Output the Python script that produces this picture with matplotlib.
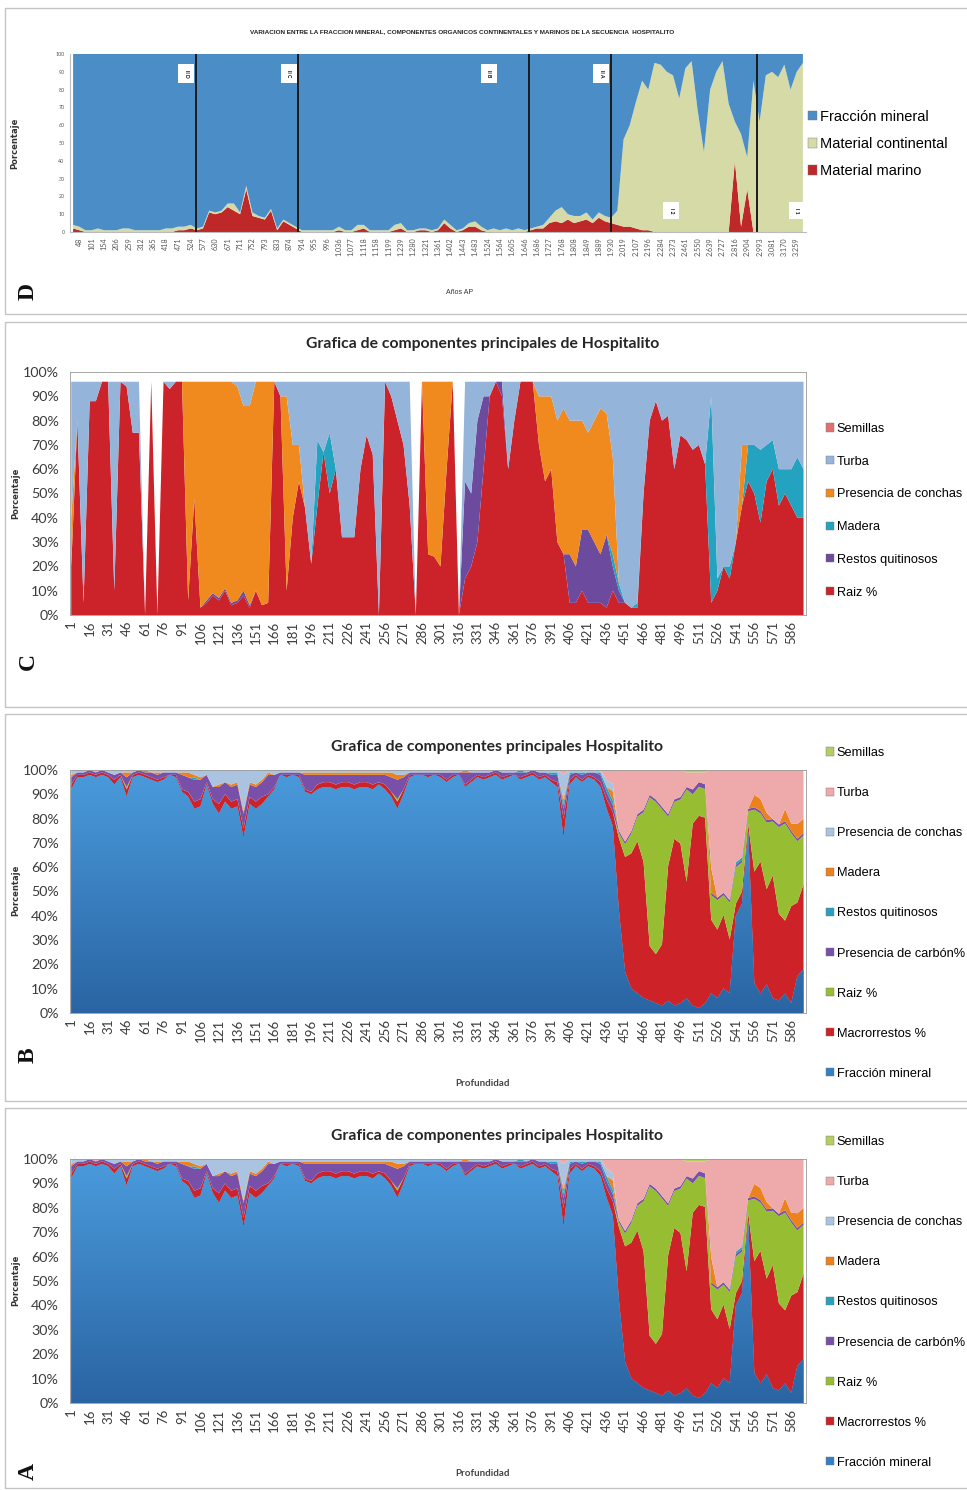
import matplotlib
matplotlib.use("Agg")

import matplotlib.pyplot as plt
import numpy as np
from matplotlib.colors import LinearSegmentedColormap
from matplotlib.patches import Patch, Rectangle

FIG_W, FIG_H = 967, 1490

NARROW = ["Liberation Sans Narrow", "Liberation Sans", "DejaVu Sans"]
HUMANIST = ["Lato", "DejaVu Sans"]
SERIF = ["Liberation Serif", "DejaVu Serif"]
TICK_GREY = "#3c3c3c"

# ---------------------------------------------------------------- panel D
D_TITLE = ("VARIACION ENTRE LA FRACCION MINERAL, COMPONENTES ORGANICOS "
           "CONTINENTALES Y MARINOS DE LA SECUENCIA  HOSPITALITO")
D_AGES = ["48", "101", "154", "206", "259", "312", "365", "418", "471", "524",
          "577", "630", "671", "711", "752", "793", "833", "874", "914", "955",
          "996", "1.036", "1.077", "1.118", "1.158", "1.199", "1.239", "1.280",
          "1.321", "1.361", "1.402", "1.443", "1.483", "1.524", "1.564", "1.605",
          "1.646", "1.686", "1.727", "1.768", "1.808", "1.849", "1.889", "1.930",
          "2.019", "2.107", "2.196", "2.284", "2.373", "2.461", "2.550", "2.639",
          "2.727", "2.816", "2.904", "2.993", "3.081", "3.170", "3.259"]
D_ZONE_BOUNDS = [19.9, 36.4, 73.7, 87.0, 110.6]
D_ZONE_NAMES = ["II D", "II C", "II B", "II A", "I 2", "I 1"]
D_ZONE_AT = [18.3, 34.9, 67.2, 85.4, 96.7, 117.0]
D_ZONE_HIGH = [True, True, True, True, False, False]

D_MARINO = [
    2, 1, 0, 0, 0, 0, 0, 0, 0, 0, 0, 0, 0, 0, 0, 0, 0, 1, 1, 2,
    1, 2, 11, 10, 11, 14, 12, 10, 24, 9,
    8, 7, 12, 1, 6, 4, 2, 0, 0, 0,
    0, 0, 0, 1, 0, 0, 1, 2, 0, 0,
    0, 0, 1, 2, 0, 0, 1, 1, 0, 1,
    5, 2, 0, 1, 3, 3, 1, 0, 0, 0,
    0, 0, 0, 0, 1, 2, 2, 5, 6, 5,
    7, 5, 6, 7, 5, 8, 6, 5, 4, 3,
    3, 2, 1, 1, 0, 0, 0, 0, 0, 0,
    0, 0, 0, 0, 0, 0, 0, 40, 3, 24,
    0, 0, 0, 0, 0, 0, 0, 0, 0,
]
D_CONTINENTAL = [
    2, 2, 1, 1, 2, 1, 1, 1, 2, 2, 1, 1, 1, 1, 1, 2, 2, 2, 2, 2,
    1, 1, 1, 1, 1, 2, 4, 1, 2, 2,
    1, 1, 1, 1, 1, 1, 1, 1, 1, 1,
    1, 1, 1, 2, 1, 1, 3, 2, 1, 1,
    1, 1, 3, 3, 1, 1, 1, 1, 1, 1,
    2, 2, 1, 1, 2, 3, 2, 1, 2, 1,
    2, 1, 2, 1, 1, 1, 2, 3, 6, 9,
    3, 4, 3, 4, 2, 3, 3, 3, 8, 49,
    57, 71, 84, 79, 95, 94, 90, 88, 75, 92,
    96, 68, 45, 80, 90, 96, 72, 22, 52, 18,
    85, 62, 88, 90, 87, 94, 80, 90, 95,
]
D_MINERAL = [
    96, 97, 99, 99, 98, 99, 99, 99, 98, 98, 99, 99, 99, 99, 99, 98, 98, 97, 97, 96,
    98, 97, 88, 89, 88, 84, 84, 89, 74, 89,
    91, 92, 87, 98, 93, 95, 97, 99, 99, 99,
    99, 99, 99, 97, 99, 99, 96, 96, 99, 99,
    99, 99, 96, 95, 99, 99, 98, 98, 99, 98,
    93, 96, 99, 98, 95, 94, 97, 99, 98, 99,
    98, 99, 98, 99, 98, 97, 96, 92, 88, 86,
    90, 91, 91, 89, 93, 89, 91, 92, 88, 48,
    40, 27, 15, 20, 5, 6, 10, 12, 25, 8,
    4, 32, 55, 20, 10, 4, 28, 38, 45, 58,
    15, 38, 12, 10, 13, 6, 20, 10, 5,
]
D_SERIES = ["Material marino", "Material continental", "Fracción mineral"]
D_COLORS = ["#be2828", "#d6daa7", "#4a8dc7"]

# ------------------------------------------------- depth profiles (A, B, C)
DEPTH = list(range(1, 600, 5))
DEPTH_TICKS = list(range(1, 587, 15))
PCT_TICKS = [0, 10, 20, 30, 40, 50, 60, 70, 80, 90, 100]

# panel C, values in % of sample (stack tops out near 96 %)
C_RAIZ = [
    20, 80, 5, 88, 88, 96, 96, 10, 96, 94,
    75, 75, 0, 96, 0, 96, 93, 96, 96, 6,
    48, 3, 5, 8, 6, 10, 4, 5, 8, 3,
    10, 4, 5, 96, 90, 10, 40, 55, 44, 21,
    45, 67, 50, 60, 32, 32, 32, 60, 74, 66,
    0, 96, 90, 80, 70, 45, 0, 96, 25, 24,
    20, 60, 96, 0, 15, 20, 30, 60, 90, 96,
    90, 60, 80, 96, 96, 96, 70, 55, 60, 30,
    25, 5, 5, 10, 5, 5, 5, 3, 10, 5,
    5, 3, 3, 50, 80, 88, 80, 82, 60, 74,
    72, 68, 70, 62, 5, 10, 20, 15, 30, 45,
    55, 50, 38, 55, 60, 45, 50, 45, 40, 40,
]
C_QUITIN = [
    0, 0, 0, 0, 0, 0, 0, 0, 0, 0,
    0, 0, 0, 0, 0, 0, 0, 0, 0, 0,
    0, 0, 1, 1, 1, 1, 1, 1, 2, 1,
    0, 0, 0, 0, 0, 0, 0, 0, 0, 0,
    0, 0, 0, 0, 0, 0, 0, 0, 0, 0,
    0, 0, 0, 0, 0, 0, 0, 0, 0, 0,
    0, 0, 0, 0, 40, 30, 50, 30, 0, 0,
    6, 0, 0, 0, 0, 0, 0, 0, 0, 0,
    0, 20, 15, 25, 30, 25, 20, 30, 10, 5,
    0, 0, 0, 0, 0, 0, 0, 0, 0, 0,
    0, 0, 0, 0, 0, 0, 0, 0, 0, 0,
    0, 0, 0, 0, 0, 0, 0, 0, 0, 0,
]
C_MADERA = [
    0, 0, 0, 0, 0, 0, 0, 0, 0, 0,
    0, 0, 0, 0, 0, 0, 0, 0, 0, 0,
    0, 0, 0, 0, 0, 0, 0, 0, 0, 0,
    0, 0, 0, 0, 0, 0, 0, 0, 0, 0,
    27, 0, 25, 0, 0, 0, 0, 0, 0, 0,
    0, 0, 0, 0, 0, 0, 0, 0, 0, 0,
    0, 0, 0, 0, 0, 0, 0, 0, 0, 0,
    0, 0, 0, 0, 0, 0, 0, 0, 0, 0,
    0, 0, 0, 0, 0, 0, 0, 0, 5, 3,
    0, 0, 2, 0, 0, 0, 0, 0, 0, 0,
    0, 0, 0, 0, 85, 5, 0, 5, 0, 0,
    15, 20, 30, 15, 12, 15, 10, 15, 25, 20,
]
C_CONCHAS = [
    20, 0, 0, 0, 0, 0, 0, 0, 0, 0,
    0, 0, 0, 0, 0, 0, 0, 0, 0, 90,
    48, 93, 90, 87, 89, 85, 91, 88, 76, 82,
    86, 92, 91, 0, 0, 80, 30, 15, 0, 0,
    0, 0, 0, 0, 0, 0, 0, 0, 0, 0,
    0, 0, 0, 0, 0, 0, 0, 0, 71, 72,
    76, 36, 0, 0, 0, 0, 0, 0, 0, 0,
    0, 0, 0, 0, 0, 0, 20, 35, 30, 50,
    60, 55, 60, 45, 40, 50, 60, 50, 40, 0,
    0, 0, 0, 0, 0, 0, 0, 0, 0, 0,
    0, 0, 0, 0, 0, 0, 0, 0, 0, 25,
    0, 0, 0, 0, 0, 0, 0, 0, 0, 0,
]
C_TURBA = [
    56, 16, 91, 8, 8, 0, 0, 86, 0, 2,
    21, 21, 0, 0, 0, 0, 3, 0, 0, 0,
    0, 0, 0, 0, 0, 0, 0, 2, 10, 10,
    0, 0, 0, 0, 6, 6, 26, 26, 52, 75,
    24, 29, 21, 36, 64, 64, 64, 36, 22, 30,
    96, 0, 6, 16, 26, 51, 0, 0, 0, 0,
    0, 0, 0, 0, 41, 46, 16, 6, 6, 0,
    0, 36, 16, 0, 0, 0, 6, 6, 6, 16,
    11, 16, 16, 16, 21, 16, 11, 13, 31, 83,
    91, 93, 91, 46, 16, 8, 16, 14, 36, 22,
    24, 28, 26, 34, 6, 81, 76, 76, 66, 26,
    26, 26, 28, 26, 24, 36, 36, 36, 31, 36,
]
C_SEMILLAS = [
    0, 0, 0, 0, 0, 0, 0, 0, 0, 0,
    0, 0, 0, 0, 0, 0, 0, 0, 0, 0,
    0, 0, 0, 0, 0, 0, 0, 0, 0, 0,
    0, 0, 0, 0, 0, 0, 0, 0, 0, 0,
    0, 0, 0, 0, 0, 0, 0, 0, 0, 0,
    0, 0, 0, 0, 0, 0, 0, 0, 0, 0,
    0, 0, 0, 0, 0, 0, 0, 0, 0, 0,
    0, 0, 0, 0, 0, 0, 0, 0, 0, 0,
    0, 0, 0, 0, 0, 0, 0, 0, 0, 0,
    0, 0, 0, 0, 0, 0, 0, 0, 0, 0,
    0, 0, 0, 0, 0, 0, 0, 0, 0, 0,
    0, 0, 0, 0, 0, 0, 0, 0, 0, 0,
]
C_SERIES = ["Raiz %", "Restos quitinosos", "Madera",
            "Presencia de conchas", "Turba", "Semillas"]
C_COLORS = ["#cc2229", "#6c4a9e", "#23a3c0", "#f0891e", "#94b4da", "#e07070"]

# panels A and B share the same counts
AB_MINERAL = [
    92, 97, 97, 98, 97, 98, 97, 94, 97, 89,
    97, 98, 97, 96, 95, 96, 98, 97, 91, 89,
    84, 85, 94, 86, 82, 87, 84, 85, 72, 86,
    84, 86, 89, 92, 98, 97, 98, 97, 91, 90,
    92, 93, 93, 92, 93, 93, 92, 93, 93, 92,
    94, 92, 89, 84, 90, 97, 98, 98, 97, 98,
    97, 95, 97, 98, 93, 95, 97, 96, 97, 98,
    96, 97, 98, 96, 97, 98, 96, 97, 95, 93,
    72, 94, 97, 95, 97, 96, 93, 84, 80, 42,
    16, 10, 8, 6, 5, 4, 3, 5, 3, 4,
    6, 3, 2, 4, 8, 6, 10, 8, 40, 45,
    75, 12, 8, 12, 6, 5, 8, 4, 15, 18,
]
AB_MACRO = [
    2, 1, 1, 1, 1, 1, 1, 2, 1, 3,
    1, 1, 1, 1, 1, 1, 0, 1, 1, 2,
    3, 3, 1, 2, 4, 3, 3, 3, 4, 3,
    3, 3, 1, 1, 0, 1, 0, 1, 1, 1,
    2, 2, 2, 2, 2, 2, 2, 2, 2, 2,
    1, 2, 2, 3, 2, 1, 0, 0, 1, 0,
    1, 1, 1, 0, 1, 1, 1, 1, 1, 1,
    1, 1, 0, 1, 1, 1, 1, 1, 1, 2,
    8, 2, 1, 1, 1, 1, 2, 4, 6, 30,
    45, 55, 62, 55, 22, 20, 25, 55, 68, 65,
    48, 75, 80, 78, 30, 28, 30, 22, 5, 5,
    3, 45, 55, 40, 50, 35, 30, 40, 30, 35,
]
AB_RAIZ = [
    0, 0, 0, 0, 0, 0, 0, 0, 0, 1,
    0, 0, 0, 0, 0, 0, 0, 0, 0, 0,
    0, 0, 0, 0, 0, 0, 0, 0, 0, 0,
    0, 0, 0, 0, 0, 0, 0, 0, 0, 0,
    0, 0, 0, 0, 0, 0, 0, 0, 0, 0,
    0, 0, 0, 1, 0, 0, 0, 0, 0, 0,
    0, 0, 0, 0, 0, 0, 0, 0, 0, 0,
    0, 0, 0, 0, 0, 0, 0, 0, 0, 0,
    0, 0, 0, 0, 0, 0, 0, 0, 0, 2,
    5, 8, 10, 20, 60, 62, 55, 20, 15, 18,
    38, 12, 12, 12, 10, 12, 8, 15, 15, 12,
    5, 25, 20, 28, 22, 35, 40, 30, 25, 20,
]
AB_CARBON = [
    3, 1, 1, 1, 1, 1, 1, 2, 1, 4,
    1, 1, 1, 2, 2, 2, 1, 1, 6, 6,
    9, 8, 3, 5, 7, 5, 6, 6, 6, 5,
    6, 6, 8, 5, 1, 1, 1, 1, 6, 7,
    4, 3, 3, 4, 3, 3, 4, 3, 3, 4,
    3, 4, 6, 8, 5, 1, 1, 1, 1, 1,
    1, 3, 1, 1, 5, 3, 1, 2, 1, 1,
    2, 1, 1, 2, 1, 1, 2, 1, 2, 3,
    4, 2, 1, 2, 1, 2, 3, 3, 3, 1,
    1, 1, 1, 1, 1, 1, 1, 1, 1, 1,
    1, 2, 2, 2, 1, 1, 1, 1, 1, 1,
    1, 1, 1, 1, 1, 1, 1, 1, 1, 1,
]
AB_QUITIN = [
    0, 0, 0, 0, 0, 0, 0, 0, 0, 0,
    0, 0, 0, 0, 0, 0, 0, 0, 0, 0,
    1, 0, 0, 0, 0, 0, 0, 0, 0, 0,
    0, 0, 0, 0, 0, 0, 0, 0, 0, 0,
    0, 0, 0, 0, 0, 0, 0, 0, 0, 0,
    0, 0, 0, 0, 0, 0, 0, 0, 0, 0,
    0, 0, 0, 0, 0, 0, 0, 0, 0, 0,
    0, 0, 0, 1, 0, 0, 0, 0, 1, 1,
    2, 1, 0, 1, 0, 0, 1, 2, 2, 0,
    0, 0, 0, 0, 0, 0, 0, 0, 0, 0,
    0, 0, 0, 0, 0, 0, 0, 0, 1, 1,
    0, 0, 0, 0, 0, 0, 0, 0, 0, 0,
]
AB_MADERA = [
    1, 0, 0, 0, 0, 0, 0, 0, 0, 2,
    0, 0, 1, 0, 1, 0, 0, 0, 1, 2,
    1, 1, 0, 0, 1, 0, 1, 1, 1, 1,
    1, 1, 1, 0, 0, 0, 0, 0, 1, 1,
    1, 1, 1, 1, 1, 1, 1, 1, 1, 1,
    1, 1, 2, 2, 1, 0, 0, 0, 0, 0,
    0, 0, 0, 0, 1, 0, 0, 0, 0, 0,
    0, 0, 0, 0, 0, 0, 0, 0, 0, 0,
    2, 0, 0, 0, 0, 0, 0, 0, 4, 0,
    0, 0, 0, 0, 0, 0, 0, 0, 0, 0,
    0, 0, 0, 0, 10, 0, 0, 0, 0, 0,
    0, 5, 5, 3, 0, 0, 5, 3, 6, 6,
]
AB_CONCHAS = [
    2, 1, 1, 0, 0, 0, 1, 2, 1, 1,
    1, 0, 0, 1, 1, 1, 1, 1, 1, 1,
    2, 3, 2, 7, 6, 5, 6, 5, 17, 5,
    6, 4, 1, 2, 1, 1, 1, 1, 1, 1,
    1, 1, 1, 1, 1, 1, 1, 1, 1, 1,
    1, 1, 1, 2, 2, 1, 1, 1, 1, 1,
    1, 1, 1, 1, 0, 1, 1, 1, 1, 0,
    1, 1, 1, 0, 1, 0, 1, 1, 1, 1,
    10, 1, 1, 1, 1, 1, 1, 3, 3, 0,
    0, 0, 0, 0, 0, 0, 0, 0, 0, 0,
    0, 0, 0, 0, 0, 0, 0, 0, 0, 0,
    0, 0, 0, 0, 0, 0, 0, 0, 0, 0,
]
AB_TURBA = [
    0, 0, 0, 0, 1, 0, 0, 0, 0, 0,
    0, 0, 0, 0, 0, 0, 0, 0, 0, 0,
    0, 0, 0, 0, 0, 0, 0, 0, 0, 0,
    0, 0, 0, 0, 0, 0, 0, 0, 0, 0,
    0, 0, 0, 0, 0, 0, 0, 0, 0, 0,
    0, 0, 0, 0, 0, 0, 0, 0, 0, 0,
    0, 0, 0, 0, 0, 0, 0, 0, 0, 0,
    0, 0, 0, 0, 0, 0, 0, 0, 0, 0,
    2, 0, 0, 0, 0, 0, 0, 4, 6, 25,
    28, 25, 18, 16, 10, 12, 15, 18, 12, 11,
    6, 7, 4, 5, 40, 52, 50, 53, 38, 36,
    16, 10, 12, 18, 20, 22, 16, 22, 22, 20,
]
AB_SEMILLAS = [
    0, 0, 0, 0, 0, 0, 0, 0, 0, 0,
    0, 0, 0, 0, 0, 0, 0, 0, 0, 0,
    0, 0, 0, 0, 0, 0, 0, 0, 0, 0,
    0, 0, 0, 0, 0, 0, 0, 0, 0, 0,
    0, 0, 0, 0, 0, 0, 0, 0, 0, 0,
    0, 0, 0, 0, 0, 0, 0, 0, 0, 0,
    0, 0, 0, 0, 0, 0, 0, 0, 0, 0,
    0, 0, 0, 0, 0, 0, 0, 0, 0, 0,
    0, 0, 0, 0, 0, 0, 0, 0, 0, 0,
    0, 0, 0, 0, 0, 0, 0, 0, 0, 0,
    1, 1, 1, 1, 0, 0, 0, 0, 0, 0,
    0, 0, 0, 0, 0, 0, 0, 0, 0, 0,
]
AB_SERIES = ["Fracción mineral", "Macrorrestos %", "Raiz %", "Presencia de carbón%",
             "Restos quitinosos", "Madera", "Presencia de conchas", "Turba", "Semillas"]
AB_COLORS = ["#3480c4", "#cd2328", "#97be32", "#7850aa", "#28a0be",
             "#eb821e", "#aac3e1", "#eeaaaa", "#b4cd64"]
AB_TITLE = "Grafica de componentes principales Hospitalito"
C_TITLE = "Grafica de componentes principales de Hospitalito"


def fx(px):
    return px / FIG_W


def fy(py):
    return 1.0 - py / FIG_H


def axes_box(fig, left, top, right, bottom):
    return fig.add_axes([fx(left), fy(bottom), (right - left) / FIG_W, (bottom - top) / FIG_H])


def percent_stack(layers):
    arr = np.array(layers, dtype=float)
    total = arr.sum(axis=0)
    total[total == 0] = 1.0
    return arr / total * 100.0


def shade_gradient(ax, poly, top, bottom):
    cmap = LinearSegmentedColormap.from_list("mineral", [bottom, top])
    x0, x1 = ax.get_xlim()
    y0, y1 = ax.get_ylim()
    grad = np.linspace(1, 0, 256).reshape(-1, 1)
    im = ax.imshow(grad, cmap=cmap, aspect="auto", extent=(x0, x1, y0, y1),
                   origin="upper", interpolation="bilinear", zorder=1.01)
    im.set_clip_path(poly.get_paths()[0], transform=poly.get_transform())
    ax.set_xlim(x0, x1)
    ax.set_ylim(y0, y1)


def add_legend(fig, ax, labels, colors, left, top, spacing, size=9.2):
    handles = [Patch(facecolor=c, edgecolor="#777777", linewidth=0.3) for c in colors]
    ax.legend(handles[::-1], labels[::-1], loc="upper left",
              bbox_to_anchor=(fx(left), fy(top)), bbox_transform=fig.transFigure,
              frameon=False, handlelength=0.6, handleheight=0.6, handletextpad=0.25,
              borderpad=0, borderaxespad=0, labelspacing=spacing,
              prop={"family": NARROW, "size": size})


def stack(ax, x, values, colors):
    polys = ax.stackplot(x, values, colors=colors, linewidth=0)
    for poly in polys:
        poly.set_edgecolor("none")
    return polys


def depth_axes(ax, layers, colors, normalize, gradient=None):
    values = percent_stack(layers) if normalize else np.array(layers, dtype=float)
    polys = stack(ax, DEPTH, values, colors)
    ax.set_xlim(0, 598)
    ax.set_ylim(0, 100)
    if gradient is not None:
        shade_gradient(ax, polys[0], *gradient)
    ax.set_yticks(PCT_TICKS)
    ax.set_yticklabels([f"{v}%" for v in PCT_TICKS], family=HUMANIST, fontsize=10.3,
                       color=TICK_GREY)
    ax.set_xticks(DEPTH_TICKS)
    ax.set_xticklabels([str(d) for d in DEPTH_TICKS], rotation=90, family=HUMANIST,
                       fontsize=9.5, color=TICK_GREY)
    ax.tick_params(axis="x", length=0, pad=4)
    ax.tick_params(axis="y", length=0, pad=8)
    for spine in ax.spines.values():
        spine.set_color("#9a9a9a")
        spine.set_linewidth(0.6)
    ax.set_facecolor("white")


fig = plt.figure(figsize=(FIG_W / 100, FIG_H / 100), dpi=100)

# panel frames
for top, bottom in [(8, 314), (322, 707), (714, 1101), (1108, 1488)]:
    fig.add_artist(Rectangle((fx(5), fy(bottom)), fx(1000), (bottom - top) / FIG_H,
                             transform=fig.transFigure, fill=False,
                             edgecolor="#c4c4c4", linewidth=1.0))

# ---- D: age series
axd = axes_box(fig, 70, 54, 806, 232)
d_vals = percent_stack([D_MARINO, D_CONTINENTAL, D_MINERAL])
stack(axd, np.arange(len(D_MINERAL)), d_vals, D_COLORS)
axd.set_xlim(-0.5, len(D_MINERAL) - 0.5)
axd.set_ylim(0, 100)
for xb in D_ZONE_BOUNDS:
    axd.axvline(xb, color="#1a1a1a", linewidth=1.4)
for name, xa, high in zip(D_ZONE_NAMES, D_ZONE_AT, D_ZONE_HIGH):
    axd.text(xa, 89 if high else 12, name, rotation=270, ha="center", va="center",
             fontsize=3.6, fontweight="bold", family=HUMANIST,
             bbox=dict(boxstyle="square,pad=1.1", facecolor="white", edgecolor="none"))
axd.set_xticks(np.arange(1, 2 * len(D_AGES), 2))
axd.set_xticklabels(D_AGES, rotation=90, fontsize=5.2, color="#555555", family=HUMANIST)
axd.set_yticks(PCT_TICKS)
axd.set_yticklabels([str(v) for v in PCT_TICKS], fontsize=3.8, color="#555555",
                    family=HUMANIST)
axd.tick_params(length=0, pad=4)
for side in ["top", "right"]:
    axd.spines[side].set_visible(False)
axd.spines["left"].set_color("#bbbbbb")
axd.spines["bottom"].set_color("#bbbbbb")
fig.text(fx(462), fy(32), D_TITLE, ha="center", va="center", family=NARROW,
         fontsize=4.6, fontweight="bold", color="#222222")
fig.text(fx(15), fy(143), "Porcentaje", rotation=90, ha="center", va="center",
         fontsize=6, fontweight="bold", color="#333333")
fig.text(fx(460), fy(293), "Años AP", ha="center", va="center", family=NARROW,
         fontsize=5, color="#333333")
add_legend(fig, axd, D_SERIES, D_COLORS, 808, 110, 0.9, size=10.5)

# ---- C
axc = axes_box(fig, 70, 372, 806, 615)
depth_axes(axc, [C_RAIZ, C_QUITIN, C_MADERA, C_CONCHAS, C_TURBA, C_SEMILLAS],
           C_COLORS, normalize=False)
fig.text(fx(483), fy(344), C_TITLE, ha="center", va="center", family=HUMANIST,
         fontsize=11.3, fontweight="bold", color="#262626")
fig.text(fx(16), fy(493), "Porcentaje", rotation=90, ha="center", va="center",
         fontsize=6, fontweight="bold", color="#333333")
add_legend(fig, axc, C_SERIES, C_COLORS, 826, 423, 1.62)

# ---- B and A share the same composition
ab_layers = [AB_MINERAL, AB_MACRO, AB_RAIZ, AB_CARBON, AB_QUITIN,
             AB_MADERA, AB_CONCHAS, AB_TURBA, AB_SEMILLAS]
for top, bottom, title_y, label_y, depth_y, legend_top in [
        (770, 1013, 747, 890, 1084, 747), (1159, 1403, 1136, 1280, 1473, 1136)]:
    ax = axes_box(fig, 70, top, 806, bottom)
    depth_axes(ax, ab_layers, AB_COLORS, normalize=True,
               gradient=("#4a9bdc", "#2a64a3"))
    fig.text(fx(497), fy(title_y), AB_TITLE, ha="center", va="center", family=HUMANIST,
             fontsize=11.3, fontweight="bold", color="#262626")
    fig.text(fx(16), fy(label_y), "Porcentaje", rotation=90, ha="center", va="center",
             fontsize=6, fontweight="bold", color="#333333")
    fig.text(fx(482), fy(depth_y), "Profundidad", ha="center", va="center",
             family=HUMANIST, fontsize=7, fontweight="bold", color="#444444")
    add_legend(fig, ax, AB_SERIES, AB_COLORS, 826, legend_top, 2.2)

# panel letters
for letter, py in [("D", 292), ("C", 662), ("B", 1055), ("A", 1472)]:
    fig.text(fx(28), fy(py), letter, rotation=90, ha="center", va="center",
             family=SERIF, fontsize=17, fontweight="bold", color="#111111")

fig.savefig("out.png", dpi=100)
